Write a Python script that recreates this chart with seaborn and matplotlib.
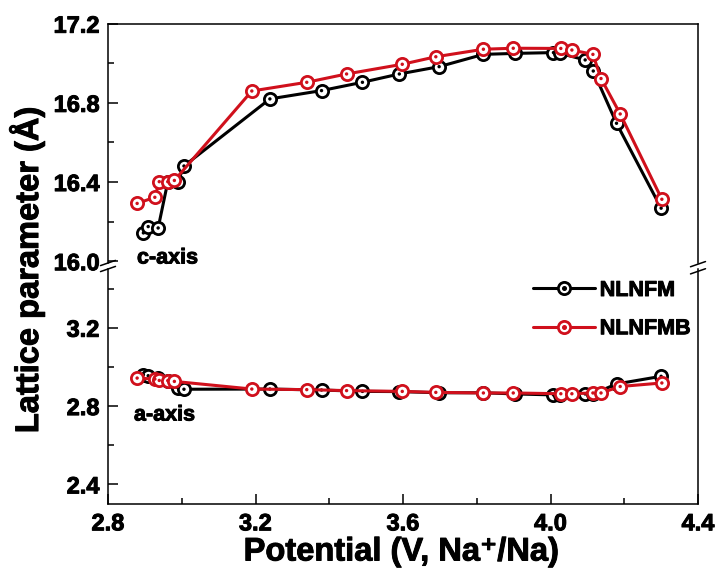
import matplotlib
matplotlib.use("Agg")
import matplotlib.pyplot as plt
from matplotlib.lines import Line2D
from matplotlib.legend_handler import HandlerTuple
import matplotlib.patheffects as pe
import seaborn as sns
import pandas as pd

# ---------------- data ----------------
potential_nlnfm = [2.896, 2.909, 2.936, 2.962, 2.989, 3.006, 3.239, 3.379, 3.490, 3.590,
                   3.698, 3.818, 3.904, 4.008, 4.026, 4.094, 4.116, 4.179, 4.300]
c_nlnfm = [16.143, 16.175, 16.168, 16.400, 16.398, 16.481, 16.820, 16.862, 16.904, 16.946,
           16.983, 17.045, 17.050, 17.054, 17.050, 17.017, 16.961, 16.697, 16.268]
a_nlnfm = [2.960, 2.955, 2.945, 2.930, 2.894, 2.886, 2.887, 2.882, 2.875, 2.874,
           2.868, 2.868, 2.862, 2.857, 2.858, 2.862, 2.862, 2.913, 2.952]

potential_nlnfmb = [2.879, 2.927, 2.939, 2.962, 2.980, 3.190, 3.339, 3.447, 3.598, 3.689,
                    3.818, 3.899, 4.028, 4.058, 4.115, 4.137, 4.189, 4.302]
c_nlnfmb = [16.292, 16.323, 16.402, 16.402, 16.408, 16.860, 16.904, 16.946, 16.995, 17.033,
            17.071, 17.076, 17.075, 17.067, 17.045, 16.923, 16.744, 16.313]
a_nlnfmb = [2.943, 2.938, 2.931, 2.930, 2.926, 2.887, 2.884, 2.879, 2.875, 2.870,
            2.867, 2.867, 2.863, 2.863, 2.867, 2.867, 2.900, 2.918]

samples = ["NLNFM", "NLNFMB"]
colors = {"NLNFM": "#000000", "NLNFMB": "#d0101c"}

x_ticks = [2.8, 3.2, 3.6, 4.0, 4.4]
top_ticks = [16.0, 16.4, 16.8, 17.2]
bottom_ticks = [2.4, 2.8, 3.2]

frames = []
for name, pot, cv, av in [("NLNFM", potential_nlnfm, c_nlnfm, a_nlnfm),
                          ("NLNFMB", potential_nlnfmb, c_nlnfmb, a_nlnfmb)]:
    frames.append(pd.DataFrame({"potential": pot, "value": cv, "sample": name, "param": "c"}))
    frames.append(pd.DataFrame({"potential": pot, "value": av, "sample": name, "param": "a"}))
df = pd.concat(frames, ignore_index=True)

# ---------------- style ----------------
sns.set_theme(style="ticks")
plt.rcParams["font.family"] = ["Liberation Sans", "DejaVu Sans"]
plt.rcParams["font.weight"] = "bold"
for k in ["text.color", "axes.labelcolor", "xtick.color", "ytick.color", "axes.edgecolor"]:
    plt.rcParams[k] = "black"

heavy = [pe.withStroke(linewidth=0.7, foreground="black")]

W, H = 726, 580
fig = plt.figure(figsize=(W / 100, H / 100), dpi=100)

L, R = 108 / W, 698 / W
top_t, top_b = 1 - 23.7 / H, 1 - 263 / H
bot_t, bot_b = 1 - 269 / H, 1 - 504 / H
ax_top = fig.add_axes([L, top_b, R - L, top_t - top_b])
ax_bot = fig.add_axes([L, bot_b, R - L, bot_t - bot_b])

ms, mew, lw = 8.8, 2.0, 2.2
for ax, param in [(ax_top, "c"), (ax_bot, "a")]:
    for i, s in enumerate(samples):
        sub = df[(df["sample"] == s) & (df["param"] == param)]
        sns.lineplot(data=sub, x="potential", y="value", ax=ax, sort=False, estimator=None,
                     color=colors[s], lw=lw, marker="o", markersize=ms,
                     markerfacecolor="white", markeredgecolor=colors[s], markeredgewidth=mew,
                     zorder=3 + 2 * i, legend=False)
        sns.scatterplot(data=sub, x="potential", y="value", ax=ax, color=colors[s],
                        s=6, edgecolor="none", zorder=4 + 2 * i, legend=False)
    ax.set_xlim(2.8, 4.4)
    ax.set_xlabel("")
    ax.set_ylabel("")
    for sp in ax.spines.values():
        sp.set_linewidth(1.1)
        sp.set_color("black")
    ax.tick_params(which="both", direction="in", width=1.1, colors="black",
                   labelsize=17, pad=6)
    ax.tick_params(which="major", length=7)
    ax.tick_params(which="minor", length=4.5)

ax_top.set_ylim(15.991, 17.2)
ax_top.set_yticks(top_ticks)
ax_top.set_yticklabels([f"{v:.1f}" for v in top_ticks])
ax_top.set_yticks([16.2, 16.6, 17.0], minor=True)
ax_top.spines["bottom"].set_visible(False)
ax_top.tick_params(axis="x", which="both", bottom=False, labelbottom=False)

ax_bot.set_ylim(2.3, 3.5)
ax_bot.set_yticks(bottom_ticks)
ax_bot.set_yticklabels([f"{v:.1f}" for v in bottom_ticks])
ax_bot.set_yticks([2.6, 3.0, 3.4], minor=True)
ax_bot.set_xticks(x_ticks)
ax_bot.set_xticklabels([f"{v:.1f}" for v in x_ticks])
ax_bot.set_xticks([3.0, 3.4, 3.8, 4.2], minor=True)
ax_bot.spines["top"].set_visible(False)

for ax in (ax_top, ax_bot):
    for lab in ax.get_yticklabels() + ax.get_xticklabels():
        lab.set_fontweight("bold")
        lab.set_path_effects(heavy)

# break marks
for xc, (y1, y2) in [(L, (top_b, bot_t)), (R, (top_b - 0.002, bot_t - 0.004))]:
    for yc in (y1, y2):
        dx, dy = 7.5 / W, 2.6 / H
        fig.add_artist(Line2D([xc - dx, xc + dx], [yc - dy, yc + dy], color="black",
                              lw=1.1, transform=fig.transFigure))

# annotations
fig.text(137 / W, 1 - 258 / H, "c-axis", fontsize=15.5, fontweight="bold",
         ha="left", va="center", path_effects=heavy)
fig.text(134 / W, 1 - 415 / H, "a-axis", fontsize=15.5, fontweight="bold",
         ha="left", va="center", path_effects=heavy)

fig.text(27 / W, 1 - 270 / H, "Lattice parameter (Å)", rotation=90, fontsize=23.5,
         fontweight="bold", ha="center", va="center", path_effects=heavy)
fig.text(401 / W, 1 - 552 / H, "Potential (V, Na\u207a/Na)", fontsize=23.5,
         fontweight="bold", ha="center", va="center", path_effects=heavy)

# legend
handles = []
for s in samples:
    h1 = Line2D([], [], color=colors[s], lw=lw, marker="o", markersize=ms,
                markerfacecolor="white", markeredgecolor=colors[s], markeredgewidth=mew)
    h2 = Line2D([], [], ls="none", marker="o", markersize=2.6, color=colors[s])
    handles.append((h1, h2))
leg = fig.legend(handles, samples, handler_map={tuple: HandlerTuple(ndivide=1, pad=0)},
                 loc="upper left", bbox_to_anchor=(533 / W, 1 - 280 / H),
                 frameon=False, fontsize=15.5, handlelength=2.9, handletextpad=0.2,
                 labelspacing=0.8, borderpad=0, borderaxespad=0)
for t in leg.get_texts():
    t.set_fontweight("bold")
    t.set_path_effects(heavy)

fig.savefig("out.png", dpi=100)
